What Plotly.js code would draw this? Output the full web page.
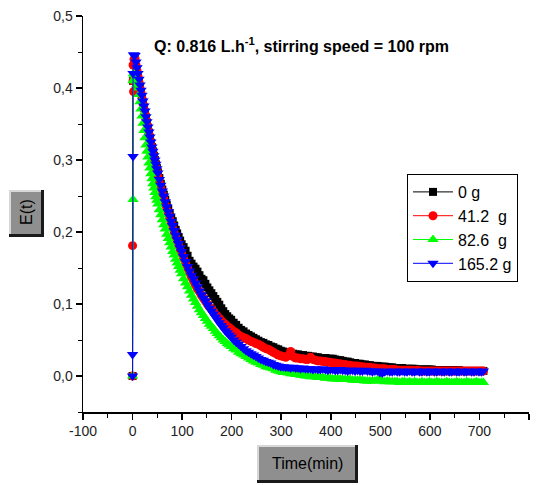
<!DOCTYPE html>
<html>
<head>
<meta charset="utf-8">
<script src="https://cdn.plot.ly/plotly-3.0.1.min.js"></script>
<style>html,body{margin:0;padding:0;background:#fff;}#chart{width:540px;height:485px;}</style>
</head>
<body>
<div id="chart"></div>
<script>
// ---- data (time in min, E(t)) ----
const seriesNames = ["0 g", "41.2\u00A0 g", "82.6\u00A0 g", "165.2 g"];
const xTickVals = [-100, 0, 100, 200, 300, 400, 500, 600, 700, 800];
const xTickLabels = ["-100", "0", "100", "200", "300", "400", "500", "600", "700", "800"];

const timeMin = [3,5,7,9,11,13,15,17,19,21,23,25,27,29,31,33,35,37,39,41,43,45,47,49,51,
  54,57,60,63,66,69,72,75,78,81,84,87,90,93,96,99,
  103,107,111,115,119,123,127,131,135,139,143,147,151,155,159,163,167,171,175,179,183,187,191,195,199,
  204,209,214,219,224,229,234,239,244,249,254,259,264,269,274,279,284,289,294,299,
  304,309,314,319,324,329,334,339,344,349,354,359,364,369,374,379,384,389,394,399,
  404,409,414,419,424,429,434,439,444,449,454,459,464,469,474,479,484,489,494,499,
  504,509,514,519,524,529,534,539,544,549,554,559,564,569,574,579,584,589,594,599,
  604,609,614,619,624,629,634,639,644,649,654,659,664,669,674,679,684,689,694,699,704,708];

// 0 g
const startT0 = [0, 1];
const startE0 = [0.000, 0.410];
const e0g = [0.415,0.418,0.420,0.418,0.414,0.408,0.401,0.394,0.387,0.380,0.373,0.366,0.359,0.352,0.345,0.338,0.331,0.324,0.318,0.312,0.306,0.300,0.294,0.289,0.283,
  0.275,0.267,0.259,0.252,0.245,0.238,0.232,0.226,0.220,0.215,0.209,0.203,0.198,0.193,0.188,0.183,
  0.179,0.174,0.167,0.160,0.156,0.152,0.149,0.145,0.140,0.135,0.133,0.128,0.123,0.119,0.115,0.111,0.107,0.103,0.099,0.094,0.090,0.086,0.083,0.080,0.078,
  0.074,0.071,0.067,0.064,0.062,0.059,0.057,0.055,0.053,0.051,0.049,0.047,0.046,0.044,0.043,0.041,0.040,0.038,0.037,0.035,
  0.034,0.033,0.032,0.031,0.031,0.030,0.030,0.029,0.029,0.028,0.028,0.027,0.027,0.026,0.026,0.025,0.025,0.025,0.024,0.024,
  0.024,0.023,0.022,0.022,0.021,0.020,0.020,0.019,0.018,0.018,0.017,0.017,0.016,0.016,0.015,0.015,0.014,0.014,0.014,0.013,
  0.013,0.013,0.012,0.012,0.012,0.011,0.011,0.011,0.011,0.010,0.010,0.010,0.010,0.010,0.009,0.009,0.009,0.009,0.009,0.009,
  0.009,0.008,0.008,0.008,0.008,0.008,0.008,0.008,0.008,0.008,0.008,0.008,0.007,0.007,0.007,0.007,0.007,0.007,0.007,0.007,0.007,0.007];

// 41.2 g
const startT1 = [0, 0, 1, 1, 2];
const startE1 = [0.000, 0.181, 0.432, 0.410, 0.395];
const e41g = [0.440,0.441,0.432,0.424,0.416,0.408,0.400,0.393,0.386,0.378,0.371,0.364,0.356,0.349,0.342,0.335,0.328,0.321,0.314,0.308,0.302,0.296,0.290,0.284,0.278,
  0.269,0.261,0.253,0.246,0.238,0.231,0.225,0.218,0.212,0.205,0.199,0.193,0.187,0.181,0.175,0.170,
  0.163,0.156,0.150,0.143,0.137,0.132,0.126,0.121,0.117,0.112,0.108,0.104,0.100,0.096,0.093,0.089,0.086,0.083,0.080,0.077,0.074,0.072,0.069,0.067,0.065,
  0.062,0.060,0.057,0.055,0.053,0.052,0.050,0.048,0.047,0.045,0.044,0.042,0.040,0.038,0.037,0.035,0.033,0.031,0.029,0.028,
  0.027,0.026,0.028,0.034,0.027,0.025,0.025,0.024,0.024,0.023,0.023,0.026,0.023,0.022,0.021,0.021,0.020,0.020,0.019,0.019,
  0.018,0.018,0.017,0.017,0.016,0.016,0.015,0.015,0.014,0.014,0.014,0.013,0.013,0.012,0.012,0.012,0.011,0.011,0.010,0.010,
  0.010,0.010,0.009,0.009,0.009,0.009,0.008,0.008,0.008,0.008,0.008,0.008,0.008,0.007,0.008,0.007,0.007,0.007,0.007,0.007,
  0.007,0.007,0.007,0.007,0.007,0.007,0.007,0.007,0.007,0.007,0.007,0.007,0.007,0.007,0.007,0.007,0.007,0.007,0.007,0.007,0.007,0.007];

// 82.6 g
const startT2 = [0, 1, 1, 2];
const startE2 = [0.000, 0.245, 0.410, 0.420];
const e82g = [0.418,0.414,0.410,0.405,0.400,0.391,0.381,0.371,0.361,0.351,0.341,0.331,0.321,0.312,0.304,0.296,0.289,0.281,0.274,0.267,0.261,0.255,0.249,0.244,0.239,
  0.231,0.224,0.217,0.210,0.204,0.197,0.191,0.185,0.179,0.173,0.168,0.162,0.157,0.152,0.147,0.142,
  0.135,0.129,0.124,0.118,0.112,0.107,0.102,0.097,0.092,0.088,0.084,0.080,0.076,0.072,0.069,0.066,0.062,0.059,0.056,0.053,0.050,0.048,0.045,0.043,0.041,
  0.038,0.036,0.033,0.031,0.029,0.027,0.025,0.023,0.021,0.019,0.018,0.016,0.015,0.013,0.012,0.011,0.010,0.008,0.007,0.006,
  0.005,0.005,0.004,0.003,0.003,0.002,0.002,0.001,0.001,0.000,0.000,-0.001,-0.001,-0.001,-0.002,-0.002,-0.002,-0.003,-0.003,-0.003,
  -0.004,-0.004,-0.004,-0.004,-0.005,-0.005,-0.005,-0.005,-0.006,-0.006,-0.006,-0.006,-0.006,-0.007,-0.007,-0.007,-0.007,-0.007,-0.006,-0.004,
  -0.007,-0.008,-0.007,-0.008,-0.008,-0.008,-0.008,-0.009,-0.008,-0.008,-0.009,-0.008,-0.009,-0.008,-0.009,-0.009,-0.008,-0.009,-0.009,-0.008,
  -0.009,-0.009,-0.008,-0.009,-0.009,-0.009,-0.008,-0.009,-0.009,-0.009,-0.008,-0.009,-0.009,-0.009,-0.008,-0.009,-0.009,-0.009,-0.008,-0.009,-0.009,-0.009];

// 165.2 g
const startT3 = [0, 0, 1, 1, 2];
const startE3 = [0.000, 0.030, 0.305, 0.420, 0.446];
const e165g = [0.446,0.445,0.436,0.428,0.420,0.412,0.404,0.397,0.390,0.382,0.375,0.368,0.360,0.353,0.346,0.339,0.332,0.325,0.318,0.312,0.306,0.300,0.294,0.288,0.282,
  0.273,0.265,0.257,0.250,0.242,0.235,0.228,0.222,0.215,0.209,0.202,0.196,0.190,0.184,0.178,0.173,
  0.166,0.159,0.152,0.146,0.140,0.135,0.129,0.124,0.118,0.113,0.108,0.104,0.099,0.094,0.090,0.086,0.082,0.078,0.074,0.070,0.067,0.063,0.060,0.057,0.054,
  0.050,0.047,0.044,0.041,0.038,0.035,0.033,0.031,0.029,0.027,0.025,0.023,0.022,0.020,0.019,0.018,0.016,0.015,0.014,0.013,
  0.013,0.012,0.012,0.011,0.012,0.011,0.011,0.010,0.011,0.010,0.010,0.010,0.009,0.010,0.009,0.009,0.010,0.009,0.008,0.009,
  0.009,0.008,0.008,0.009,0.008,0.008,0.007,0.008,0.008,0.007,0.008,0.007,0.007,0.008,0.007,0.007,0.006,0.007,0.007,0.005,
  0.004,0.006,0.007,0.006,0.006,0.007,0.006,0.006,0.007,0.006,0.006,0.007,0.006,0.006,0.007,0.006,0.006,0.007,0.006,0.006,
  0.007,0.006,0.006,0.007,0.006,0.006,0.007,0.006,0.006,0.007,0.006,0.006,0.007,0.006,0.006,0.007,0.006,0.006,0.007,0.006,0.006,0.007];

const colors = ["#000000", "#ff0000", "#00ff00", "#0000ff"];
const symbols = ["square", "circle", "triangle-up", "triangle-down"];
const sizes = [8, 9, 10, 10];

const startTs = [startT0, startT1, startT2, startT3];
const startEs = [startE0, startE1, startE2, startE3];
const vals = [e0g, e41g, e82g, e165g];

// ---- geometry helpers (pixel -> paper) ----
const L = 83, R = 11, T = 16, B = 73, W = 540, H = 485;
const PW = W - L - R, PH = H - T - B;
const px = v => (v - L) / PW;
const py = v => (H - B - v) / PH;

const traces = seriesNames.map((n, i) => ({
  type: "scatter", mode: "lines+markers", name: n,
  x: startTs[i].concat(timeMin), y: startEs[i].concat(vals[i]),
  line: {color: colors[i], width: 1},
  marker: {symbol: symbols[i], size: sizes[i], color: colors[i], line: {width: 0}}
}));

const font = "Arial, 'Liberation Sans', sans-serif";
const axCommon = {
  showline: true, linecolor: "#000", linewidth: 1.5, showgrid: false, zeroline: false,
  tickfont: {family: font, size: 14, color: "#222"}, tickcolor: "#000", tickwidth: 1.5
};

function boxShapes(x0, y0, x1, y1) {
  return [
    {type: "rect", xref: "paper", yref: "paper", x0: px(x0), x1: px(x1 + 3), y0: py(y1 + 3), y1: py(y0), fillcolor: "#1a1a1a", line: {width: 0}, layer: "above"},
    {type: "rect", xref: "paper", yref: "paper", x0: px(x0), x1: px(x1), y0: py(y1), y1: py(y0), fillcolor: "#d8d8d8", line: {width: 0}, layer: "above"},
    {type: "rect", xref: "paper", yref: "paper", x0: px(x0 + 2), x1: px(x1), y0: py(y1), y1: py(y0 + 2), fillcolor: "#8f8f8f", line: {width: 0}, layer: "above"}
  ];
}

const layout = {
  width: W, height: H, margin: {l: L, r: R, t: T, b: B},
  paper_bgcolor: "#fff", plot_bgcolor: "#fff",
  separators: ", ",
  font: {family: font, color: "#000"},
  showlegend: true,
  legend: {x: px(407), y: py(174), xanchor: "left", yanchor: "top",
    bordercolor: "#000", borderwidth: 1, bgcolor: "#fff",
    font: {family: font, size: 16, color: "#000"}, itemwidth: 40, tracegroupgap: 0},
  xaxis: Object.assign({}, axCommon, {range: [-100, 800], tickmode: "array", tickvals: xTickVals, ticktext: xTickLabels,
    ticks: "outside", ticklen: 6,
    minor: {ticks: "outside", dtick: 50, tick0: 0, ticklen: 4, tickwidth: 1, tickcolor: "#000"}}),
  yaxis: Object.assign({}, axCommon, {range: [-0.05, 0.5], tick0: 0, dtick: 0.1, tickformat: ".1f", ticks: "outside", ticklen: 6,
    minor: {ticks: "outside", dtick: 0.05, ticklen: 4, tickwidth: 1, tickcolor: "#000"}}),
  xaxis2: Object.assign({}, axCommon, {overlaying: "x", side: "top", anchor: "y", range: [-100, 800], tick0: 0, dtick: 100,
    ticks: "inside", ticklen: 5, showticklabels: false,
    minor: {ticks: "inside", dtick: 50, ticklen: 3, tickwidth: 1, tickcolor: "#000"}}),
  yaxis2: Object.assign({}, axCommon, {overlaying: "y", side: "right", anchor: "x", range: [-0.05, 0.5], tick0: 0, dtick: 0.1,
    ticks: "inside", ticklen: 5, showticklabels: false,
    minor: {ticks: "inside", dtick: 0.05, ticklen: 3, tickwidth: 1, tickcolor: "#000"}}),
  shapes: [].concat(boxShapes(9, 190, 41, 234), boxShapes(257, 445, 355, 480)),
  annotations: [
    {text: "<b>Q: 0.816 L.h<sup>-1</sup>, stirring speed = 100 rpm</b>", xref: "paper", yref: "paper",
      x: px(301), y: py(45), xanchor: "center", yanchor: "middle", showarrow: false,
      font: {family: font, size: 16, color: "#000"}},
    {text: "E(t)", xref: "paper", yref: "paper", x: px(26), y: py(212), xanchor: "center", yanchor: "middle",
      showarrow: false, textangle: -90, font: {family: font, size: 16, color: "#000"}},
    {text: "Time(min)", xref: "paper", yref: "paper", x: px(307), y: py(463), xanchor: "center", yanchor: "middle",
      showarrow: false, font: {family: font, size: 16, color: "#000"}}
  ]
};

Plotly.newPlot("chart", traces, layout, {staticPlot: true, displayModeBar: false});
</script>
</body>
</html>
